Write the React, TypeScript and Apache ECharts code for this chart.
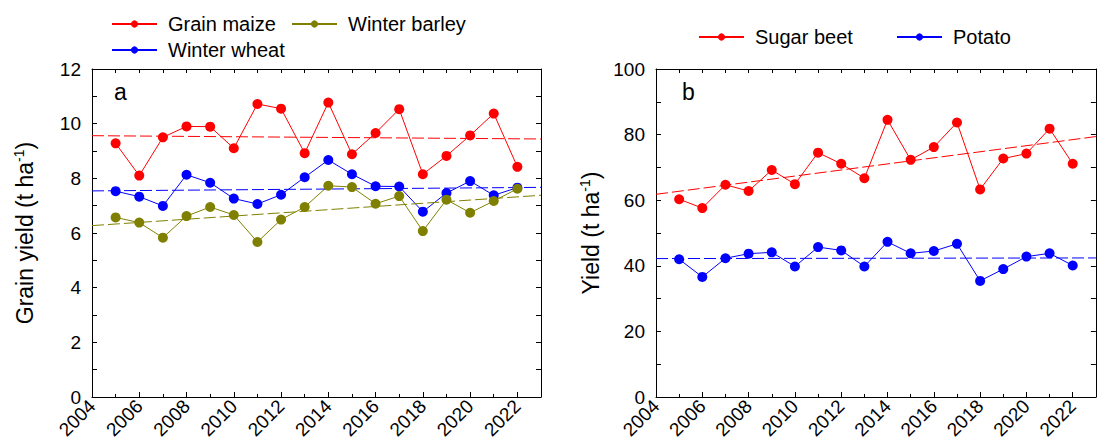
import React, { useEffect, useRef } from "react";
import * as echarts from "echarts";

const years = [2005, 2006, 2007, 2008, 2009, 2010, 2011, 2012, 2013, 2014, 2015, 2016, 2017, 2018, 2019, 2020, 2021, 2022];

const grainMaize = [9.28, 8.1, 9.5, 9.9, 9.89, 9.1, 10.72, 10.55, 8.92, 10.77, 8.88, 9.66, 10.53, 8.15, 8.82, 9.57, 10.37, 8.42];
const winterWheat = [7.53, 7.33, 6.99, 8.13, 7.84, 7.26, 7.06, 7.4, 8.04, 8.67, 8.15, 7.71, 7.7, 6.78, 7.46, 7.9, 7.38, 7.66];
const winterBarley = [6.57, 6.38, 5.83, 6.62, 6.95, 6.66, 5.67, 6.49, 6.95, 7.73, 7.68, 7.07, 7.35, 6.07, 7.22, 6.74, 7.17, 7.62];

const sugarBeet = [60.3, 57.6, 64.7, 62.8, 69.2, 64.9, 74.5, 71.1, 66.7, 84.5, 72.3, 76.2, 83.7, 63.3, 72.7, 74.2, 81.8, 71.1];
const potato = [42.0, 36.6, 42.3, 43.7, 44.1, 39.8, 45.7, 44.7, 39.8, 47.3, 43.8, 44.5, 46.7, 35.4, 39.0, 42.8, 43.8, 40.1];

// trend line end values at 2004 and 2023
const trendYears = [2004, 2023];
const maizeTrend = [9.56, 9.44];
const wheatTrend = [7.54, 7.67];
const barleyTrend = [6.27, 7.38];
const beetTrend = [61.8, 79.4];
const potatoTrend = [42.2, 42.4];

const RED = "#ff0000";
const BLUE = "#0000ff";
const OLIVE = "#808000";
const F = "'Liberation Sans', Arial, sans-serif";

function pairs(ys: number[]) {
  return years.map((y, i) => [y, ys[i]]);
}
function trendPairs(vals: number[]) {
  return trendYears.map((y, i) => [y, vals[i]]);
}

function xAxesFor(gridIndex: number) {
  const base = {
    type: "value",
    gridIndex,
    min: 2004,
    max: 2023,
    splitLine: { show: false },
  };
  return [
    {
      ...base,
      interval: 2,
      position: "bottom",
      axisLine: { show: true, onZero: false, lineStyle: { color: "#000", width: 1 } },
      axisTick: { show: true, inside: true, length: 5, lineStyle: { color: "#000" } },
      axisLabel: {
        rotate: 45,
        fontSize: 19,
        color: "#000",
        fontFamily: F,
        margin: 6,
        formatter: (v: number) => (v % 2 === 0 && v < 2023 ? String(v) : ""),
      },
    },
    {
      ...base,
      interval: 1,
      position: "bottom",
      axisLine: { show: false, onZero: false },
      axisTick: { show: true, inside: true, length: 3, lineStyle: { color: "#000" } },
      axisLabel: { show: false },
    },
    {
      ...base,
      interval: 1,
      position: "top",
      axisLine: { show: true, onZero: false, lineStyle: { color: "#000", width: 1 } },
      axisTick: { show: true, inside: true, length: 4, lineStyle: { color: "#000" } },
      axisLabel: { show: false },
    },
  ];
}

function yAxesFor(gridIndex: number, max: number, interval: number, labelStep: number, name: string, nameGap: number) {
  const base = {
    type: "value",
    gridIndex,
    min: 0,
    max,
    interval,
    splitLine: { show: false },
  };
  return [
    {
      ...base,
      position: "left",
      name,
      nameLocation: "middle",
      nameGap,
      nameRotate: 90,
      nameTextStyle: {
        color: "#000",
        fontFamily: F,
        rich: {
          n: { fontSize: 23, fontFamily: F, color: "#000" },
          s: { fontSize: 14, fontFamily: F, color: "#000", padding: [0, 0, 12, 0] },
        },
      },
      axisLine: { show: true, onZero: false, lineStyle: { color: "#000", width: 1 } },
      axisTick: { show: true, inside: true, length: 5, lineStyle: { color: "#000" } },
      axisLabel: {
        fontSize: 19,
        color: "#000",
        fontFamily: F,
        margin: 11,
        formatter: (v: number) => (v % labelStep === 0 ? String(v) : ""),
      },
    },
    {
      ...base,
      position: "right",
      axisLine: { show: true, onZero: false, lineStyle: { color: "#000", width: 1 } },
      axisTick: { show: true, inside: true, length: 5, lineStyle: { color: "#000" } },
      axisLabel: { show: false },
    },
  ];
}

function dataSeries(name: string, color: string, ys: number[], xi: number, yi: number) {
  return {
    name,
    type: "line",
    xAxisIndex: xi,
    yAxisIndex: yi,
    data: pairs(ys),
    symbol: "circle",
    symbolSize: 10,
    lineStyle: { color, width: 1 },
    itemStyle: { color },
  };
}

function trendSeries(name: string, color: string, vals: number[], xi: number, yi: number) {
  return {
    name,
    type: "line",
    xAxisIndex: xi,
    yAxisIndex: yi,
    data: trendPairs(vals),
    symbol: "none",
    silent: true,
    lineStyle: { color, width: 1, type: [12, 4] },
    itemStyle: { color },
    z: 3,
  };
}

const legendText = { fontSize: 20, color: "#000", fontFamily: F, padding: [0, 0, 0, 6] };

function legendItem(name: string, left: number, top: number) {
  return {
    data: [name],
    left,
    top,
    padding: 0,
    itemWidth: 45,
    itemHeight: 9,
    textStyle: legendText,
    selectedMode: false,
  };
}

export default function App() {
  const ref = useRef<HTMLDivElement>(null);
  useEffect(() => {
    document.body.style.margin = "0";
    if (!ref.current) return;
    const chart = echarts.init(ref.current, null, { renderer: "svg" });
    const option = {
      animation: false,
      backgroundColor: "#fff",
      textStyle: { fontFamily: F },
      grid: [
        { left: 92, top: 69, width: 449, bottom: 49, containLabel: false },
        { left: 656, top: 69, width: 449, bottom: 49, containLabel: false },
      ],
      xAxis: [...xAxesFor(0), ...xAxesFor(1)],
      yAxis: [
        ...yAxesFor(0, 12, 1, 2, "{n|Grain yield (t ha}{s|-1}{n|)}", 54),
        ...yAxesFor(1, 100, 10, 20, "{n|Yield (t ha}{s|-1}{n|)}", 52),
      ],
      legend: [
        legendItem("Grain maize", 111, 14),
        legendItem("Winter barley", 291, 14),
        legendItem("Winter wheat", 111, 40),
        legendItem("Sugar beet", 698, 27),
        legendItem("Potato", 896, 27),
      ],
      graphic: [
        { type: "text", left: 114, top: 80, style: { text: "a", fontSize: 23, fill: "#000", fontFamily: F } },
        { type: "text", left: 682, top: 80, style: { text: "b", fontSize: 23, fill: "#000", fontFamily: F } },
      ],
      series: [
        dataSeries("Grain maize", RED, grainMaize, 0, 0),
        dataSeries("Winter wheat", BLUE, winterWheat, 0, 0),
        dataSeries("Winter barley", OLIVE, winterBarley, 0, 0),
        trendSeries("maize trend", RED, maizeTrend, 0, 0),
        trendSeries("wheat trend", BLUE, wheatTrend, 0, 0),
        trendSeries("barley trend", OLIVE, barleyTrend, 0, 0),
        dataSeries("Sugar beet", RED, sugarBeet, 3, 2),
        dataSeries("Potato", BLUE, potato, 3, 2),
        trendSeries("beet trend", RED, beetTrend, 3, 2),
        trendSeries("potato trend", BLUE, potatoTrend, 3, 2),
      ],
    };
    chart.setOption(option as any);
    return () => chart.dispose();
  }, []);
  return <div ref={ref} style={{ width: 1098, height: 446 }} />;
}
